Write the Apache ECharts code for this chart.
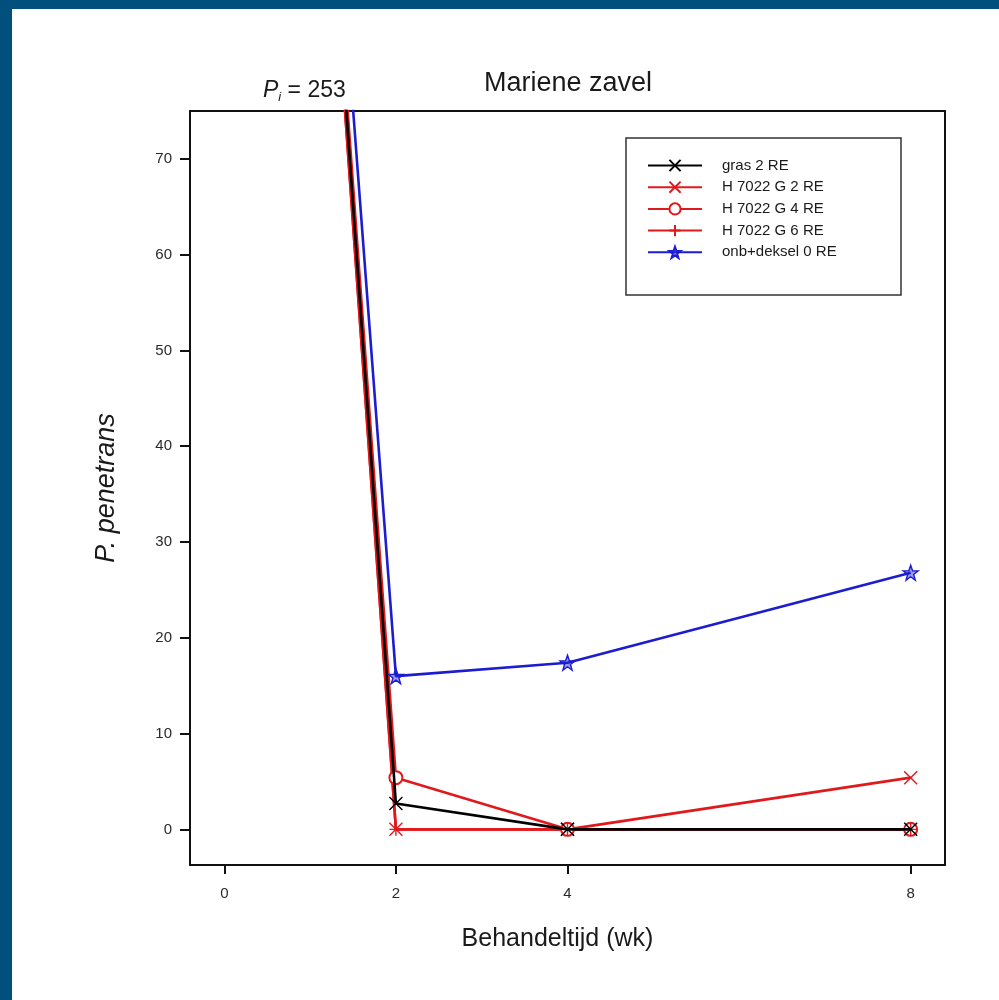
<!DOCTYPE html>
<html>
<head>
<meta charset="utf-8">
<script src="https://cdn.jsdelivr.net/npm/echarts@6/dist/echarts.min.js"></script>
<style>
    html, body { margin:0; padding:0; }
    #wrap { position:absolute; left:0; top:0; width:999px; height:1000px; background:#004f7c; }
    #chart { position:absolute; left:12px; top:9px; width:987px; height:991px; background:#fff; }
</style>
</head>
<body>
<div id="wrap"><div id="chart"></div></div>
<script>
    // behandeltijd in weken
    const weeks = [0, 2, 4, 8];
    const xTicks = [0, 2, 4, 8];
    const yTicks = [0, 10, 20, 30, 40, 50, 60, 70];

    // P. penetrans per behandeling (start Pi = 253)
    const gras2 = [253, 2.7, 0, 0];
    const h7022g2 = [253, 0, 0, 5.4];
    const h7022g4 = [253, 5.4, 0, 0];
    const h7022g6 = [253, 0, 0, 0];
    const onbDeksel0 = [253, 16, 17.4, 26.8];

    const RED = '#e0191c';
    const BLUE = '#1c1cd0';
    const FONT = '"Liberation Sans", Arial, sans-serif';

    const crossX = 'path://M0,0L10,10M10,0L0,10';
    const plus = 'path://M5,0L5,10M0,5L10,5';
    const star = 'path://M5,0L6.18,3.38L9.76,3.45L6.9,5.62L7.94,9.05L5,7L2.06,9.05L3.1,5.62L0.24,3.45L3.82,3.38Z';

    function pairs(vals){
        return weeks.map((w, i) => [w, vals[i]]);
    }

    function line(name, vals, color, symbol, z, fill, size){
        return {
            name: name,
            type: 'line',
            data: pairs(vals),
            z: z,
            symbol: symbol,
            symbolSize: size || 13,
            showAllSymbol: true,
            clip: true,
            lineStyle: { color: color, width: 2.6 },
            itemStyle: { color: fill || color, borderColor: color, borderWidth: 1.4 }
        };
    }

    let chart = echarts.init(document.getElementById('chart'));
    let option = {
        animation: false,
        textStyle: { fontFamily: FONT },
        title: {
            text: 'Mariene zavel',
            left: 551,
            top: 56,
            textAlign: 'center',
            textStyle: { fontSize: 27, fontWeight: 'normal', color: '#1a1a1a', fontFamily: FONT }
        },
        graphic: [
            {
                type: 'rect',
                shape: { x: 614, y: 129, width: 275, height: 157 },
                style: { fill: '#fff', stroke: '#333', lineWidth: 1.5 },
                z: 5
            },
            {
                type: 'text',
                left: 251,
                top: 70,
                style: {
                    text: '{p|P}{s|i}{n| = 253}',
                    rich: {
                        p: { fontSize: 23, fontStyle: 'italic', fill: '#1a1a1a', fontFamily: FONT },
                        s: { fontSize: 13, fontStyle: 'italic', fill: '#1a1a1a', fontFamily: FONT, padding: [13, 0, 0, 0] },
                        n: { fontSize: 23, fill: '#1a1a1a', fontFamily: FONT }
                    }
                }
            }
        ],
        legend: {
            orient: 'vertical',
            left: 630,
            top: 144,
            z: 6,
            itemWidth: 54,
            itemHeight: 14,
            itemGap: 6.7,
            data: ['gras 2 RE', 'H 7022 G 2 RE', 'H 7022 G 4 RE', 'H 7022 G 6 RE', 'onb+deksel 0 RE'],
            textStyle: { fontSize: 15, color: '#1a1a1a', fontFamily: FONT, padding: [0, 0, 0, 15] }
        },
        grid: {
            left: 178,
            top: 102,
            right: 54,
            bottom: 135,
            show: true,
            borderColor: '#111',
            borderWidth: 2
        },
        xAxis: {
            type: 'value',
            min: -0.4,
            max: 8.4,
            name: 'Behandeltijd (wk)',
            nameLocation: 'middle',
            nameGap: 62,
            nameTextStyle: { fontSize: 25, color: '#1a1a1a', fontFamily: FONT, padding: [0, 20, 0, 0] },
            axisLine: { show: false, onZero: false },
            splitLine: { show: false },
            axisTick: { customValues: xTicks, length: 9, lineStyle: { color: '#111', width: 2 } },
            axisLabel: { customValues: xTicks, margin: 21, fontSize: 15, color: '#2a2a2a', fontFamily: FONT }
        },
        yAxis: {
            type: 'value',
            min: -3.72,
            max: 75,
            name: 'P. penetrans',
            nameLocation: 'middle',
            nameGap: 70,
            nameTextStyle: { fontSize: 27, fontStyle: 'italic', color: '#1a1a1a', fontFamily: FONT },
            axisLine: { show: false, onZero: false },
            splitLine: { show: false },
            axisTick: { customValues: yTicks, length: 10, lineStyle: { color: '#111', width: 2 } },
            axisLabel: { customValues: yTicks, margin: 18, fontSize: 15, color: '#2a2a2a', fontFamily: FONT }
        },
        series: [
            line('H 7022 G 2 RE', h7022g2, RED, crossX, 2),
            line('H 7022 G 4 RE', h7022g4, RED, 'emptyCircle', 2),
            line('H 7022 G 6 RE', h7022g6, RED, plus, 2),
            line('gras 2 RE', gras2, '#000', crossX, 3),
            line('onb+deksel 0 RE', onbDeksel0, BLUE, star, 4, 'rgba(28,28,208,0.45)', 15)
        ]
    };
    chart.setOption(option);
    window.addEventListener('resize', chart.resize);
</script>
</body>
</html>
